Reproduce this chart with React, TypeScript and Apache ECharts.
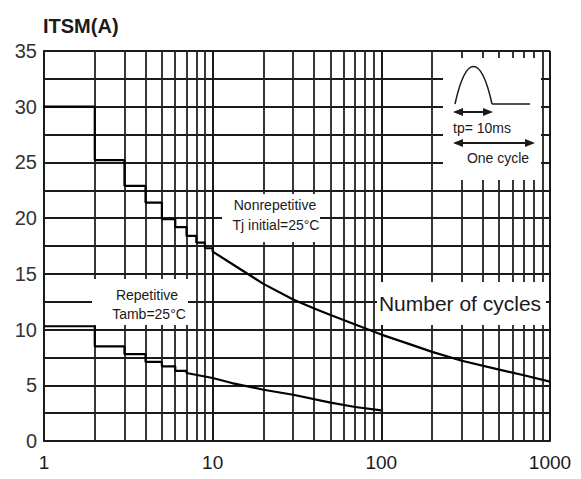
import React, { useEffect, useRef } from "react";
import * as echarts from "echarts";

// ---- data ----
const nonrepStepEdges = [1, 2, 3, 4, 5, 6, 7, 8, 9, 10];
const nonrepStepValues = [30, 25.2, 22.9, 21.4, 19.9, 19.2, 18.4, 17.8, 17.3];
const nonrepCurveCycles = [10, 15, 20, 30, 40, 50, 70, 100, 150, 200, 300, 500, 700, 1000];
const nonrepCurveValues = [17.0, 15.3, 14.1, 12.7, 11.9, 11.3, 10.45, 9.55, 8.65, 8.0, 7.2, 6.4, 5.9, 5.33];

const repStepEdges = [1, 2, 3, 4, 5, 6, 7];
const repStepValues = [10.3, 8.5, 7.8, 7.1, 6.7, 6.3];
const repCurveCycles = [7, 10, 13, 20, 30, 50, 70, 100];
const repCurveValues = [6.1, 5.65, 5.2, 4.6, 4.15, 3.45, 3.05, 2.75];

const minorCycleLines = [2, 3, 4, 5, 6, 7, 8, 9, 20, 30, 40, 50, 60, 70, 80, 90, 200, 300, 400, 500, 600, 700, 800, 900];
const yMin = 0;
const yMax = 35;
const yStep = 5;

const yTitle = "ITSM(A)";
const xTitle = "Number of cycles";
const nonrepLabel = ["Nonrepetitive", "Tj initial=25°C"];
const repLabel = ["Repetitive", "Tamb=25°C"];
const pulseLabel = "tp= 10ms";
const cycleLabel = "One cycle";

function buildSeries(edges: number[], steps: number[], cx: number[], cy: number[]) {
  const out: number[][] = [];
  steps.forEach((v, i) => {
    out.push([edges[i], v]);
    out.push([edges[i + 1], v]);
  });
  cx.forEach((c, i) => out.push([c, cy[i]]));
  return out;
}

const FONT = "'Liberation Sans', Arial, sans-serif";
const INK = "#1a1a1a";

export default function App() {
  const ref = useRef<HTMLDivElement>(null);
  useEffect(() => {
    if (!ref.current) return;
    const chart = echarts.init(ref.current, undefined, { renderer: "svg" });
    const whiteBox = (x: number, y: number, w: number, h: number) => ({
      type: "rect",
      z: 10,
      shape: { x, y, width: w, height: h },
      style: { fill: "#fff" },
      silent: true,
    });
    const txt = (text: string, x: number, y: number, size: number, align = "center", weight = "normal") => ({
      type: "text",
      z: 11,
      x,
      y,
      silent: true,
      style: {
        text,
        fill: INK,
        fontSize: size,
        fontFamily: FONT,
        fontWeight: weight,
        align,
        verticalAlign: "middle",
      },
    });
    const arrowHead = (x: number, y: number, dir: number) => ({
      type: "polygon",
      z: 12,
      silent: true,
      shape: { points: [[x, y], [x - dir * 10, y - 4], [x - dir * 10, y + 4]] },
      style: { fill: INK },
    });
    const seg = (x1: number, y1: number, x2: number, y2: number, w = 2) => ({
      type: "line",
      z: 12,
      silent: true,
      shape: { x1, y1, x2, y2 },
      style: { stroke: INK, lineWidth: w },
    });

    chart.setOption({
      animation: false,
      title: {
        text: yTitle,
        left: 38,
        top: 11,
        textStyle: { fontFamily: FONT, fontSize: 20, fontWeight: "bold", color: INK },
      },
      grid: { left: 44, right: 31, top: 51, bottom: 38 },
      xAxis: {
        type: "log",
        logBase: 10,
        min: 1,
        max: 1000,
        axisLine: { show: true, lineStyle: { color: INK, width: 2 } },
        axisTick: { show: false },
        axisLabel: {
          color: INK,
          fontFamily: FONT,
          fontSize: 19,
          margin: 12,
          formatter: (v: number) => String(Math.round(v)),
        },
        splitLine: { show: true, lineStyle: { color: INK, width: 2 } },
      },
      yAxis: {
        type: "value",
        min: yMin,
        max: yMax,
        interval: yStep,
        axisLine: { show: true, lineStyle: { color: INK, width: 2 } },
        axisTick: { show: false },
        axisLabel: { color: "#333", fontFamily: FONT, fontSize: 20, margin: 7 },
        splitLine: { show: true, lineStyle: { color: INK, width: 2 } },
        minorTick: { show: false, splitNumber: 2 },
        minorSplitLine: { show: true, lineStyle: { color: INK, width: 2 } },
      },
      series: [
        {
          type: "line",
          data: [],
          silent: true,
          markLine: {
            z: 1,
            silent: true,
            symbol: ["none", "none"],
            label: { show: false },
            lineStyle: { color: "#222", width: 1.8, type: "solid" },
            data: minorCycleLines.map((v) => ({ xAxis: v })),
          },
        },
        {
          name: "Nonrepetitive",
          type: "line",
          z: 3,
          symbol: "none",
          lineStyle: { color: "#000", width: 2.2 },
          data: buildSeries(nonrepStepEdges, nonrepStepValues, nonrepCurveCycles, nonrepCurveValues),
        },
        {
          name: "Repetitive",
          type: "line",
          z: 3,
          symbol: "none",
          lineStyle: { color: "#000", width: 2.2 },
          data: buildSeries(repStepEdges, repStepValues, repCurveCycles, repCurveValues),
        },
      ],
      graphic: {
        elements: [
          whiteBox(222, 194, 98, 48),
          whiteBox(92, 279, 96, 46),
          whiteBox(377, 282, 169, 43),
          whiteBox(443, 58, 98, 122),
          txt(nonrepLabel[0], 275, 205, 14),
          txt(nonrepLabel[1], 276, 225, 14),
          txt(repLabel[0], 147, 295, 14),
          txt(repLabel[1], 149, 314, 14),
          txt(xTitle, 460, 303, 21),
          // inset: one half-sine pulse
          {
            type: "bezierCurve",
            z: 12,
            silent: true,
            shape: { x1: 455, y1: 104, cpx1: 466, cpy1: 54, cpx2: 481, cpy2: 54, x2: 492, y2: 104 },
            style: { stroke: INK, lineWidth: 1.5, fill: "none" },
          },
          seg(492, 104, 530, 104, 1.5),
          seg(455, 112, 491, 112),
          arrowHead(453, 112, -1),
          arrowHead(493, 112, 1),
          txt(pulseLabel, 453, 128, 14, "left"),
          seg(455, 143, 533, 143),
          arrowHead(453, 143, -1),
          arrowHead(535, 143, 1),
          txt(cycleLabel, 498, 158, 14),
        ],
      },
    });
    return () => chart.dispose();
  }, []);
  return <div ref={ref} style={{ position: "fixed", left: 0, top: 0, width: 581, height: 479, background: "#fff" }} />;
}
